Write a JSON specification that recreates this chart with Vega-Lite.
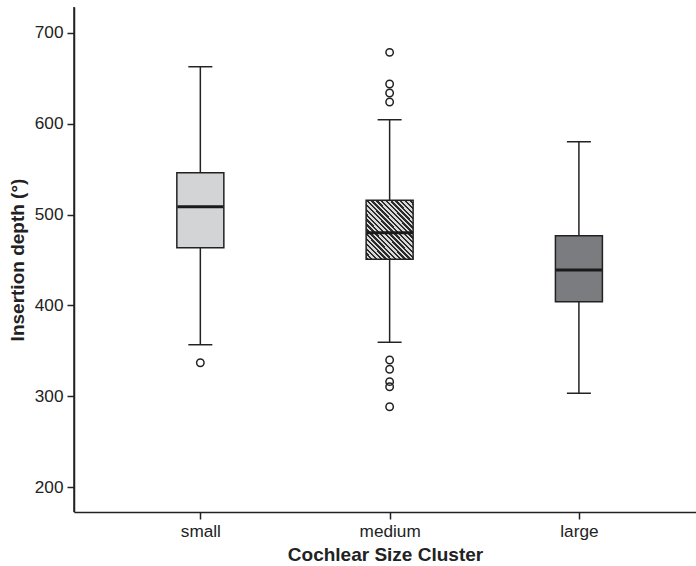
{
  "$schema": "https://vega.github.io/schema/vega-lite/v6.json",
  "width": 622,
  "height": 505,
  "autosize": {"type": "none"},
  "padding": {"left": 74, "top": 7, "right": 0, "bottom": 54},
  "background": "white",
  "config": {
    "view": {"stroke": null},
    "font": "Liberation Sans",
    "axis": {
      "grid": false,
      "domainColor": "#222222",
      "domainWidth": 1.5,
      "tickColor": "#222222",
      "tickWidth": 1.5,
      "tickSize": 7,
      "labelFont": "Liberation Sans",
      "labelFontSize": 17.2,
      "labelColor": "#222222",
      "titleFont": "Liberation Sans",
      "titleFontSize": 19,
      "titleFontWeight": "bold",
      "titleColor": "#222222"
    }
  },
  "datasets": {
    "stats": [
      {"cluster": "small", "lo": 356.8, "q1": 463.5, "med": 508.6, "q3": 546.0, "hi": 662.6},
      {"cluster": "medium", "lo": 359.5, "q1": 450.7, "med": 480.0, "q3": 515.7, "hi": 604.3},
      {"cluster": "large", "lo": 303.4, "q1": 404.0, "med": 439.0, "q3": 476.7, "hi": 580.0}
    ],
    "outliers": [
      {"cluster": "small", "value": 337},
      {"cluster": "medium", "value": 678.4},
      {"cluster": "medium", "value": 643.6},
      {"cluster": "medium", "value": 633.7},
      {"cluster": "medium", "value": 623.8},
      {"cluster": "medium", "value": 340.0},
      {"cluster": "medium", "value": 329.8},
      {"cluster": "medium", "value": 316.2},
      {"cluster": "medium", "value": 310.6},
      {"cluster": "medium", "value": 288.6}
    ]
  },
  "encoding": {
    "x": {
      "field": "cluster",
      "type": "nominal",
      "sort": ["small", "medium", "large"],
      "scale": {"type": "point", "domain": ["small", "medium", "large"], "padding": 0.643, "align": 0.519},
      "axis": {"title": "Cochlear Size Cluster", "labelAngle": 0, "labelPadding": 3, "titlePadding": 6}
    }
  },
  "layer": [
    {
      "data": {"name": "stats"},
      "mark": {"type": "rule", "color": "#222222", "strokeWidth": 1.5},
      "encoding": {
        "y": {
          "field": "lo", "type": "quantitative",
          "scale": {"domain": [172.8, 728.3], "nice": false, "zero": false},
          "axis": {"title": "Insertion depth (°)", "values": [200, 300, 400, 500, 600, 700], "labelPadding": 4, "titlePadding": 7}
        },
        "y2": {"field": "hi"}
      }
    },
    {
      "data": {"name": "stats"},
      "transform": [{"filter": "datum.cluster !== 'medium'"}],
      "mark": {"type": "bar", "size": 47, "stroke": "#222222", "strokeWidth": 1.5},
      "encoding": {
        "y": {"field": "q1", "type": "quantitative"},
        "y2": {"field": "q3"},
        "fill": {
          "field": "cluster", "type": "nominal",
          "scale": {"domain": ["small", "large"], "range": ["#d3d4d6", "#7b7c80"]},
          "legend": null
        }
      }
    },
    {
      "data": {"name": "stats"},
      "transform": [{"filter": "datum.cluster === 'medium'"}],
      "mark": {
        "type": "bar", "size": 47, "stroke": "#222222", "strokeWidth": 1.5,
        "fill": {
          "gradient": "linear", "x1": 0, "y1": 1, "x2": 0.888, "y2": -0.091,
          "stops": [
            {"offset": 0, "color": "#2b2b2b"}, {"offset": 0.0227, "color": "#2b2b2b"}, {"offset": 0.0227, "color": "#d9d9d9"}, {"offset": 0.0455, "color": "#d9d9d9"},
            {"offset": 0.0455, "color": "#2b2b2b"}, {"offset": 0.0682, "color": "#2b2b2b"}, {"offset": 0.0682, "color": "#d9d9d9"}, {"offset": 0.0909, "color": "#d9d9d9"},
            {"offset": 0.0909, "color": "#2b2b2b"}, {"offset": 0.1136, "color": "#2b2b2b"}, {"offset": 0.1136, "color": "#d9d9d9"}, {"offset": 0.1364, "color": "#d9d9d9"},
            {"offset": 0.1364, "color": "#2b2b2b"}, {"offset": 0.1591, "color": "#2b2b2b"}, {"offset": 0.1591, "color": "#d9d9d9"}, {"offset": 0.1818, "color": "#d9d9d9"},
            {"offset": 0.1818, "color": "#2b2b2b"}, {"offset": 0.2045, "color": "#2b2b2b"}, {"offset": 0.2045, "color": "#d9d9d9"}, {"offset": 0.2273, "color": "#d9d9d9"},
            {"offset": 0.2273, "color": "#2b2b2b"}, {"offset": 0.25, "color": "#2b2b2b"}, {"offset": 0.25, "color": "#d9d9d9"}, {"offset": 0.2727, "color": "#d9d9d9"},
            {"offset": 0.2727, "color": "#2b2b2b"}, {"offset": 0.2955, "color": "#2b2b2b"}, {"offset": 0.2955, "color": "#d9d9d9"}, {"offset": 0.3182, "color": "#d9d9d9"},
            {"offset": 0.3182, "color": "#2b2b2b"}, {"offset": 0.3409, "color": "#2b2b2b"}, {"offset": 0.3409, "color": "#d9d9d9"}, {"offset": 0.3636, "color": "#d9d9d9"},
            {"offset": 0.3636, "color": "#2b2b2b"}, {"offset": 0.3864, "color": "#2b2b2b"}, {"offset": 0.3864, "color": "#d9d9d9"}, {"offset": 0.4091, "color": "#d9d9d9"},
            {"offset": 0.4091, "color": "#2b2b2b"}, {"offset": 0.4318, "color": "#2b2b2b"}, {"offset": 0.4318, "color": "#d9d9d9"}, {"offset": 0.4545, "color": "#d9d9d9"},
            {"offset": 0.4545, "color": "#2b2b2b"}, {"offset": 0.4773, "color": "#2b2b2b"}, {"offset": 0.4773, "color": "#d9d9d9"}, {"offset": 0.5, "color": "#d9d9d9"},
            {"offset": 0.5, "color": "#2b2b2b"}, {"offset": 0.5227, "color": "#2b2b2b"}, {"offset": 0.5227, "color": "#d9d9d9"}, {"offset": 0.5455, "color": "#d9d9d9"},
            {"offset": 0.5455, "color": "#2b2b2b"}, {"offset": 0.5682, "color": "#2b2b2b"}, {"offset": 0.5682, "color": "#d9d9d9"}, {"offset": 0.5909, "color": "#d9d9d9"},
            {"offset": 0.5909, "color": "#2b2b2b"}, {"offset": 0.6136, "color": "#2b2b2b"}, {"offset": 0.6136, "color": "#d9d9d9"}, {"offset": 0.6364, "color": "#d9d9d9"},
            {"offset": 0.6364, "color": "#2b2b2b"}, {"offset": 0.6591, "color": "#2b2b2b"}, {"offset": 0.6591, "color": "#d9d9d9"}, {"offset": 0.6818, "color": "#d9d9d9"},
            {"offset": 0.6818, "color": "#2b2b2b"}, {"offset": 0.7045, "color": "#2b2b2b"}, {"offset": 0.7045, "color": "#d9d9d9"}, {"offset": 0.7273, "color": "#d9d9d9"},
            {"offset": 0.7273, "color": "#2b2b2b"}, {"offset": 0.75, "color": "#2b2b2b"}, {"offset": 0.75, "color": "#d9d9d9"}, {"offset": 0.7727, "color": "#d9d9d9"},
            {"offset": 0.7727, "color": "#2b2b2b"}, {"offset": 0.7955, "color": "#2b2b2b"}, {"offset": 0.7955, "color": "#d9d9d9"}, {"offset": 0.8182, "color": "#d9d9d9"},
            {"offset": 0.8182, "color": "#2b2b2b"}, {"offset": 0.8409, "color": "#2b2b2b"}, {"offset": 0.8409, "color": "#d9d9d9"}, {"offset": 0.8636, "color": "#d9d9d9"},
            {"offset": 0.8636, "color": "#2b2b2b"}, {"offset": 0.8864, "color": "#2b2b2b"}, {"offset": 0.8864, "color": "#d9d9d9"}, {"offset": 0.9091, "color": "#d9d9d9"},
            {"offset": 0.9091, "color": "#2b2b2b"}, {"offset": 0.9318, "color": "#2b2b2b"}, {"offset": 0.9318, "color": "#d9d9d9"}, {"offset": 0.9545, "color": "#d9d9d9"},
            {"offset": 0.9545, "color": "#2b2b2b"}, {"offset": 0.9773, "color": "#2b2b2b"}, {"offset": 0.9773, "color": "#d9d9d9"}, {"offset": 1, "color": "#d9d9d9"}
          ]
        }
      },
      "encoding": {
        "y": {"field": "q1", "type": "quantitative"},
        "y2": {"field": "q3"}
      }
    },
    {
      "data": {"name": "stats"},
      "mark": {"type": "tick", "orient": "horizontal", "size": 46, "thickness": 3, "color": "#1a1a1a", "opacity": 1},
      "encoding": {"y": {"field": "med", "type": "quantitative"}}
    },
    {
      "data": {"name": "stats"},
      "mark": {"type": "tick", "orient": "horizontal", "size": 24, "thickness": 1.5, "color": "#222222", "opacity": 1},
      "encoding": {"y": {"field": "lo", "type": "quantitative"}}
    },
    {
      "data": {"name": "stats"},
      "mark": {"type": "tick", "orient": "horizontal", "size": 24, "thickness": 1.5, "color": "#222222", "opacity": 1},
      "encoding": {"y": {"field": "hi", "type": "quantitative"}}
    },
    {
      "data": {"name": "outliers"},
      "mark": {"type": "point", "shape": "circle", "size": 55, "filled": false, "stroke": "#222222", "strokeWidth": 1.5, "opacity": 1},
      "encoding": {"y": {"field": "value", "type": "quantitative"}}
    },
    {
      "data": {"values": [{}]},
      "mark": {"type": "rule", "color": "#222222", "strokeWidth": 1.5},
      "encoding": {"y": {"datum": 728.3}}
    }
  ]
}
